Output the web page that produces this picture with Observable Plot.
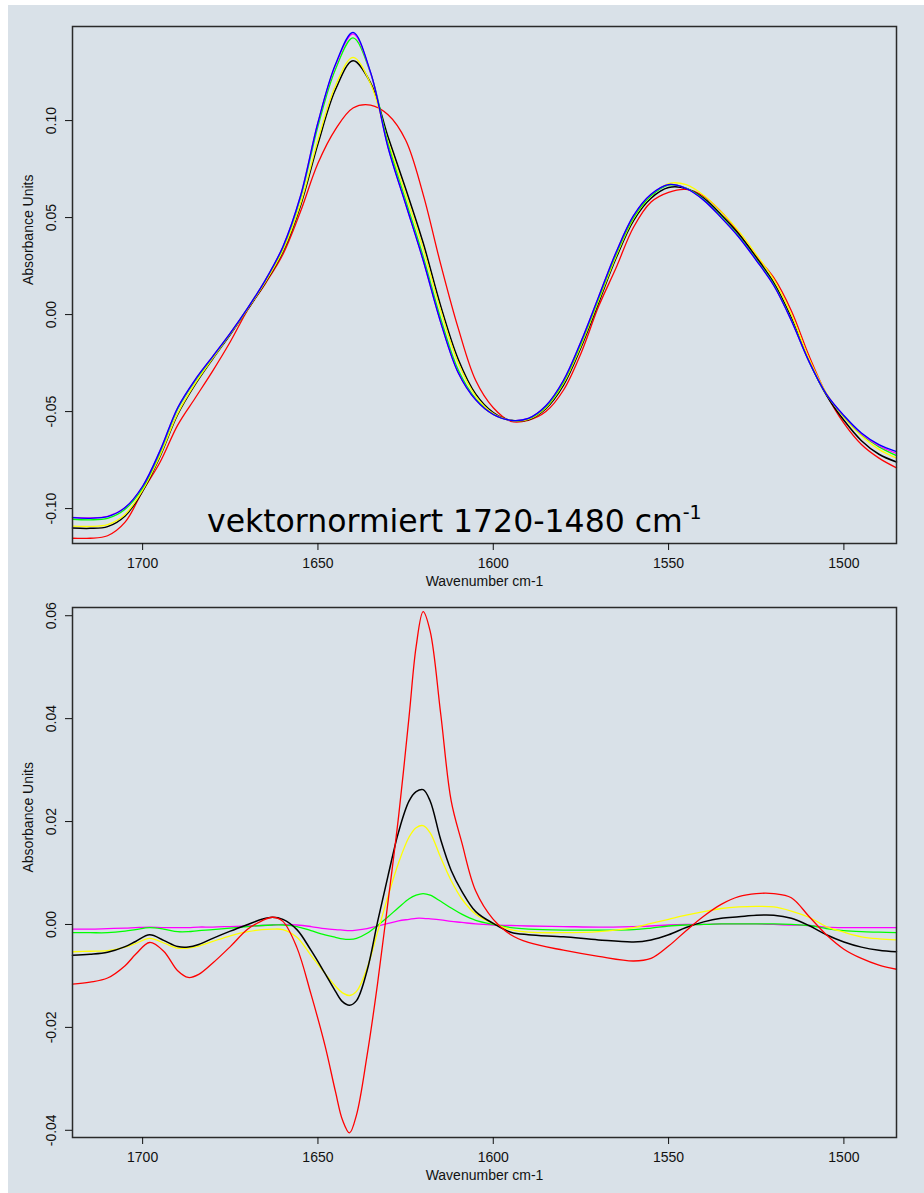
<!DOCTYPE html>
<html>
<head>
<meta charset="utf-8">
<script src="https://cdn.jsdelivr.net/npm/d3@7"></script>
<script src="https://cdn.jsdelivr.net/npm/@observablehq/plot@0.6"></script>
<style>
  html, body { margin: 0; padding: 0; background: #ffffff; }
  #sheet { position: absolute; left: 8px; top: 5px; width: 916px; height: 1188px; background: #d9e1e8; }
  #sheet svg { display: block; overflow: visible; }
</style>
</head>
<body>
<div id="sheet"></div>
<script>
// Wavenumber grid (cm-1) of the vector-normalised spectra
const wnSpectra = [1720,1715,1710,1705,1700,1695,1690,1685,1680,1675,1670,1665,1660,1655,1650,1645,1640,1635,1630,1625,1620,1615,1610,1605,1600,1595,1590,1585,1580,1575,1570,1565,1560,1555,1550,1545,1540,1535,1530,1525,1520,1515,1510,1505,1500,1495,1490,1485];

// Vector-normalised absorbance, one array per sample
const specRed     = [-0.1153,-0.1153,-0.1140,-0.1070,-0.0910,-0.0760,-0.0570,-0.0430,-0.0290,-0.0140,0.0025,0.0160,0.0310,0.0530,0.0780,0.0955,0.1065,0.1080,0.1030,0.0900,0.0620,0.0260,-0.0070,-0.0340,-0.0480,-0.0550,-0.0545,-0.0500,-0.0390,-0.0200,0.0040,0.0240,0.0450,0.0580,0.0630,0.0645,0.0610,0.0530,0.0420,0.0300,0.0190,0.0020,-0.0210,-0.0410,-0.0560,-0.0670,-0.0740,-0.0790];
const specBlack   = [-0.1100,-0.1102,-0.1093,-0.1038,-0.0910,-0.0730,-0.0515,-0.0360,-0.0228,-0.0103,0.0028,0.0165,0.0325,0.0560,0.0880,0.1160,0.1309,0.1195,0.0915,0.0650,0.0370,0.0045,-0.0230,-0.0410,-0.0505,-0.0545,-0.0542,-0.0485,-0.0365,-0.0170,0.0060,0.0290,0.0485,0.0600,0.0655,0.0650,0.0600,0.0515,0.0415,0.0295,0.0165,-0.0015,-0.0235,-0.0415,-0.0545,-0.0650,-0.0720,-0.0760];
const specYellow  = [-0.1090,-0.1092,-0.1083,-0.1030,-0.0905,-0.0725,-0.0510,-0.0355,-0.0225,-0.0100,0.0030,0.0168,0.0330,0.0570,0.0900,0.1180,0.1326,0.1190,0.0890,0.0620,0.0340,0.0020,-0.0250,-0.0420,-0.0510,-0.0545,-0.0540,-0.0480,-0.0355,-0.0160,0.0070,0.0300,0.0495,0.0612,0.0675,0.0670,0.0615,0.0530,0.0430,0.0310,0.0180,0.0000,-0.0225,-0.0405,-0.0530,-0.0625,-0.0695,-0.0740];
const specGreen   = [-0.1055,-0.1058,-0.1050,-0.1003,-0.0893,-0.0708,-0.0487,-0.0340,-0.0218,-0.0097,0.0035,0.0177,0.0345,0.0600,0.0970,0.1265,0.1426,0.1245,0.0880,0.0590,0.0300,-0.0020,-0.0285,-0.0435,-0.0515,-0.0545,-0.0537,-0.0475,-0.0348,-0.0150,0.0080,0.0310,0.0500,0.0612,0.0668,0.0652,0.0595,0.0505,0.0405,0.0285,0.0155,-0.0027,-0.0240,-0.0412,-0.0525,-0.0617,-0.0682,-0.0727];
const specMagenta = [-0.1045,-0.1048,-0.1040,-0.0995,-0.0885,-0.0700,-0.0480,-0.0335,-0.0215,-0.0095,0.0035,0.0178,0.0350,0.0610,0.0990,0.1285,0.1447,0.1247,0.0862,0.0570,0.0280,-0.0040,-0.0300,-0.0440,-0.0515,-0.0545,-0.0535,-0.0470,-0.0340,-0.0140,0.0090,0.0320,0.0510,0.0620,0.0670,0.0650,0.0590,0.0500,0.0400,0.0280,0.0150,-0.0030,-0.0240,-0.0410,-0.0522,-0.0614,-0.0676,-0.0716];
const specBlue    = [-0.1047,-0.1050,-0.1042,-0.0995,-0.0885,-0.0700,-0.0480,-0.0335,-0.0215,-0.0095,0.0035,0.0178,0.0350,0.0610,0.0990,0.1290,0.1455,0.1250,0.0860,0.0570,0.0280,-0.0040,-0.0300,-0.0440,-0.0515,-0.0545,-0.0535,-0.0470,-0.0340,-0.0140,0.0090,0.0320,0.0510,0.0620,0.0670,0.0650,0.0590,0.0500,0.0400,0.0280,0.0150,-0.0030,-0.0240,-0.0410,-0.0520,-0.0610,-0.0670,-0.0706];

// Wavenumber grid (cm-1) of the difference spectra
const wnDiff = [1720,1715,1710,1705,1702,1698,1694,1690,1687,1684,1680,1675,1670,1666,1663,1660,1656,1652,1648,1645,1643,1641,1639,1636,1633,1630,1627,1624,1622,1620,1618,1615,1612,1609,1605,1600,1595,1590,1580,1570,1560,1555,1550,1545,1540,1535,1530,1525,1520,1515,1510,1505,1500,1495,1490,1485];

// Difference spectra, one array per sample
const diffRed     = [-0.0116,-0.0112,-0.0104,-0.0080,-0.0058,-0.0035,-0.0052,-0.0090,-0.0103,-0.0097,-0.0075,-0.0043,-0.0009,0.0007,0.0014,0.0006,-0.0045,-0.0135,-0.0235,-0.0325,-0.0380,-0.0405,-0.0370,-0.0255,-0.0115,0.0045,0.0210,0.0405,0.0540,0.0608,0.0570,0.0410,0.0240,0.0160,0.0065,0.0010,-0.0020,-0.0035,-0.0050,-0.0062,-0.0071,-0.0066,-0.0042,-0.0012,0.0016,0.0039,0.0054,0.0060,0.0060,0.0052,0.0016,-0.0020,-0.0048,-0.0066,-0.0079,-0.0087];
const diffBlack   = [-0.0060,-0.0058,-0.0054,-0.0043,-0.0033,-0.0020,-0.0031,-0.0043,-0.0044,-0.0039,-0.0027,-0.0013,0.0000,0.0010,0.0014,0.0010,-0.0010,-0.0050,-0.0095,-0.0130,-0.0150,-0.0157,-0.0148,-0.0090,0.0005,0.0095,0.0180,0.0240,0.0258,0.0262,0.0240,0.0165,0.0105,0.0065,0.0025,0.0002,-0.0015,-0.0020,-0.0024,-0.0030,-0.0034,-0.0030,-0.0020,-0.0006,0.0005,0.0012,0.0015,0.0018,0.0018,0.0012,-0.0002,-0.0020,-0.0034,-0.0044,-0.0050,-0.0053];
const diffYellow  = [-0.0053,-0.0052,-0.0051,-0.0044,-0.0037,-0.0027,-0.0036,-0.0046,-0.0046,-0.0042,-0.0033,-0.0022,-0.0014,-0.0010,-0.0009,-0.0010,-0.0025,-0.0060,-0.0095,-0.0120,-0.0133,-0.0138,-0.0130,-0.0085,-0.0015,0.0055,0.0120,0.0170,0.0188,0.0192,0.0178,0.0130,0.0085,0.0050,0.0020,0.0002,-0.0010,-0.0015,-0.0016,-0.0014,-0.0006,0.0002,0.0010,0.0018,0.0025,0.0031,0.0034,0.0035,0.0034,0.0026,0.0014,-0.0004,-0.0015,-0.0024,-0.0028,-0.0030];
const diffGreen   = [-0.0016,-0.0016,-0.0016,-0.0013,-0.0010,-0.0006,-0.0009,-0.0014,-0.0014,-0.0012,-0.0010,-0.0007,-0.0004,-0.0002,-0.0001,-0.0001,-0.0004,-0.0012,-0.0020,-0.0025,-0.0028,-0.0029,-0.0027,-0.0017,-0.0002,0.0015,0.0033,0.0050,0.0057,0.0060,0.0057,0.0045,0.0032,0.0020,0.0008,0.0000,-0.0006,-0.0009,-0.0011,-0.0011,-0.0010,-0.0007,-0.0003,-0.0001,0.0000,0.0001,0.0001,0.0001,0.0001,0.0000,-0.0002,-0.0008,-0.0012,-0.0014,-0.0015,-0.0016];
const diffMagenta = [-0.0009,-0.0009,-0.0008,-0.0007,-0.0006,-0.0005,-0.0006,-0.0006,-0.0006,-0.0005,-0.0005,-0.0004,-0.0003,-0.0002,-0.0001,0.0000,-0.0001,-0.0004,-0.0008,-0.0010,-0.0011,-0.0012,-0.0011,-0.0008,-0.0003,0.0002,0.0007,0.0010,0.0012,0.0012,0.0011,0.0009,0.0006,0.0004,0.0001,-0.0001,-0.0002,-0.0003,-0.0004,-0.0005,-0.0004,-0.0003,-0.0001,0.0000,0.0000,0.0001,0.0001,0.0001,0.0000,-0.0001,-0.0002,-0.0005,-0.0006,-0.0006,-0.0006,-0.0006];

// Axis ticks
const xTicks = [1700, 1650, 1600, 1550, 1500];
const yTicksSpectra = [-0.10, -0.05, 0.00, 0.05, 0.10];
const yTicksDiff = [-0.04, -0.02, 0.00, 0.02, 0.04, 0.06];

const xLabel = "Wavenumber cm-1";
const yLabel = "Absorbance Units";
const noteText = "vektornormiert 1720-1480 cm";
const noteSup = "-1";

const sheet = document.getElementById("sheet");

function panel({height, marginTop, marginBottom, yDomain, yTicks, wn, series}) {
  return Plot.plot({
    width: 916,
    height,
    marginLeft: 64,
    marginRight: 28,
    marginTop,
    marginBottom,
    style: {
      background: "transparent",
      fontFamily: "'Liberation Sans', Arial, sans-serif",
      fontSize: "14px",
      color: "#111",
      overflow: "visible"
    },
    x: {domain: [1720, 1485]},
    y: {domain: yDomain},
    marks: [
      ...series.map(([values, color, width]) =>
        Plot.line(values, {
          x: (d, i) => wn[i],
          y: (d) => d,
          stroke: color,
          strokeWidth: width,
          curve: "catmull-rom"
        })
      ),
      Plot.frame({stroke: "#2a2a2a", strokeWidth: 1.5}),
      Plot.axisX({ticks: xTicks, tickFormat: (d) => String(d), tickSize: 7, tickPadding: 8, label: null}),
      Plot.axisY({ticks: yTicks, tickFormat: (d) => d.toFixed(2), tickSize: 7, tickRotate: -90, tickPadding: 10, label: null}),
      Plot.text([xLabel], {frameAnchor: "bottom", dy: 42}),
      Plot.text([yLabel], {frameAnchor: "left", dx: -44, rotate: -90})
    ]
  });
}

// Upper panel: vector-normalised amide I / amide II spectra
const upperPlot = panel({
  height: 597,
  marginTop: 21,
  marginBottom: 59,
  yDomain: [-0.118, 0.1485],
  yTicks: yTicksSpectra,
  wn: wnSpectra,
  series: [
    [specRed, "#ff0000", 1.3],
    [specBlack, "#000000", 1.5],
    [specYellow, "#ffff00", 1.3],
    [specGreen, "#00ff00", 1.3],
    [specMagenta, "#ff00ff", 1.3],
    [specBlue, "#0000ff", 1.3]
  ]
});
sheet.appendChild(upperPlot);

// In-plot annotation with superscript unit
const sx = upperPlot.scale("x"), sy = upperPlot.scale("y");
const note = d3.select(upperPlot).append("text")
  .attr("x", sx.apply(1681.5))
  .attr("y", sy.apply(-0.1125))
  .attr("text-anchor", "start")
  .attr("font-family", "'DejaVu Sans', Verdana, sans-serif")
  .attr("font-size", 31.5)
  .attr("fill", "#000");
note.append("tspan").text(noteText);
note.append("tspan").attr("font-size", 19).attr("dy", -13).text(noteSup);

// Lower panel: difference spectra
const lowerPlot = panel({
  height: 591,
  marginTop: 5,
  marginBottom: 56,
  yDomain: [-0.0414, 0.0616],
  yTicks: yTicksDiff,
  wn: wnDiff,
  series: [
    [diffMagenta, "#ff00ff", 1.3],
    [diffGreen, "#00ff00", 1.3],
    [diffYellow, "#ffff00", 1.3],
    [diffBlack, "#000000", 1.5],
    [diffRed, "#ff0000", 1.3]
  ]
});
sheet.appendChild(lowerPlot);
</script>
</body>
</html>
